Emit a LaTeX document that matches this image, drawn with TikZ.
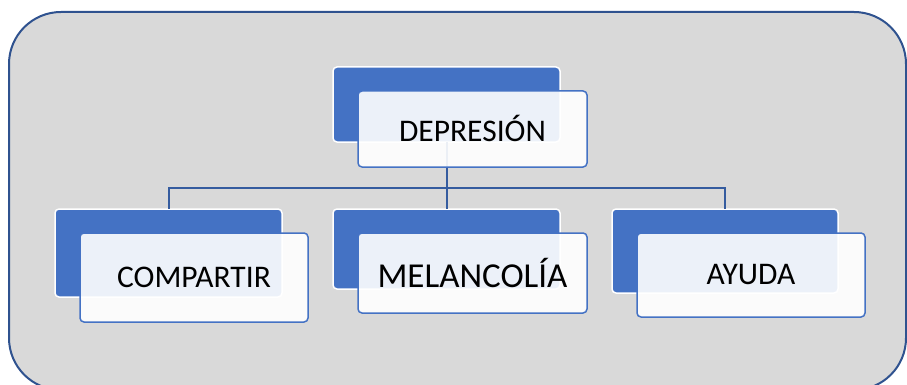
\documentclass[tikz,border=0pt]{standalone}
\usepackage{fontspec}
\setmainfont{Carlito}
\usepackage{tikz}
\usetikzlibrary{positioning}
\definecolor{ofblue}{HTML}{4472C4}
\definecolor{ofdark}{HTML}{2F528F}
\definecolor{ofgray}{HTML}{D9D9D9}

\begin{document}
\begin{tikzpicture}[x=1pt,y=-1pt]
		\tikzset{backbox/.style={draw=white,line width=1.5pt,fill=ofblue,rounded corners=4pt,inner sep=0pt,outer sep=0pt,minimum width=227pt},
			frontbox/.style={draw=ofblue,line width=1.5pt,fill=white,fill opacity=0.9,text opacity=1,rounded corners=4pt,inner sep=0pt,outer sep=0pt,minimum width=229pt,font=\fontsize{31.5}{36}\selectfont},
			link/.style={draw=ofdark!70!ofblue,line width=2pt}}
		\clip (0,0) rectangle (907,385);
		\draw[ofdark,line width=2pt,fill=ofgray,rounded corners=52pt] (9,12) rectangle (906,390);
		% back boxes
		\node[backbox,minimum height=75pt] (depB) at (446.5,104.5) {};
		\node[backbox,minimum height=88pt] (comB) at (168.5,253) {};
		\node[backbox,minimum height=80pt] (melB) at (446.5,249) {};
		\node[backbox,minimum height=84pt,minimum width=226pt] (ayuB) at (725,251) {};
		% links
		\path (depB.south) ++(0,46) coordinate (bus);
		\draw[link] (depB.south) -- (bus) -| (comB.north);
		\draw[link] (bus) -| (ayuB.north);
		\draw[link] (bus) -- (melB.north);
		% front boxes
		\node[frontbox,minimum height=76pt] (depF) at ([shift={(26,24.5)}]depB.center) {\raisebox{2pt}{DEPRESIÓN}};
		\node[frontbox,minimum height=89pt,minimum width=228pt] (comF) at ([shift={(25.5,24.5)}]comB.center) {COMPARTIR};
		\node[frontbox,minimum height=80pt,font=\fontsize{35}{40}\selectfont] (melF) at ([shift={(26,24)}]melB.center) {\raisebox{1pt}{MELANCOLÍA}};
		\node[frontbox,minimum height=84pt,minimum width=228pt] (ayuF) at ([shift={(26,24)}]ayuB.center) {AYUDA};
\end{tikzpicture}
\end{document}
